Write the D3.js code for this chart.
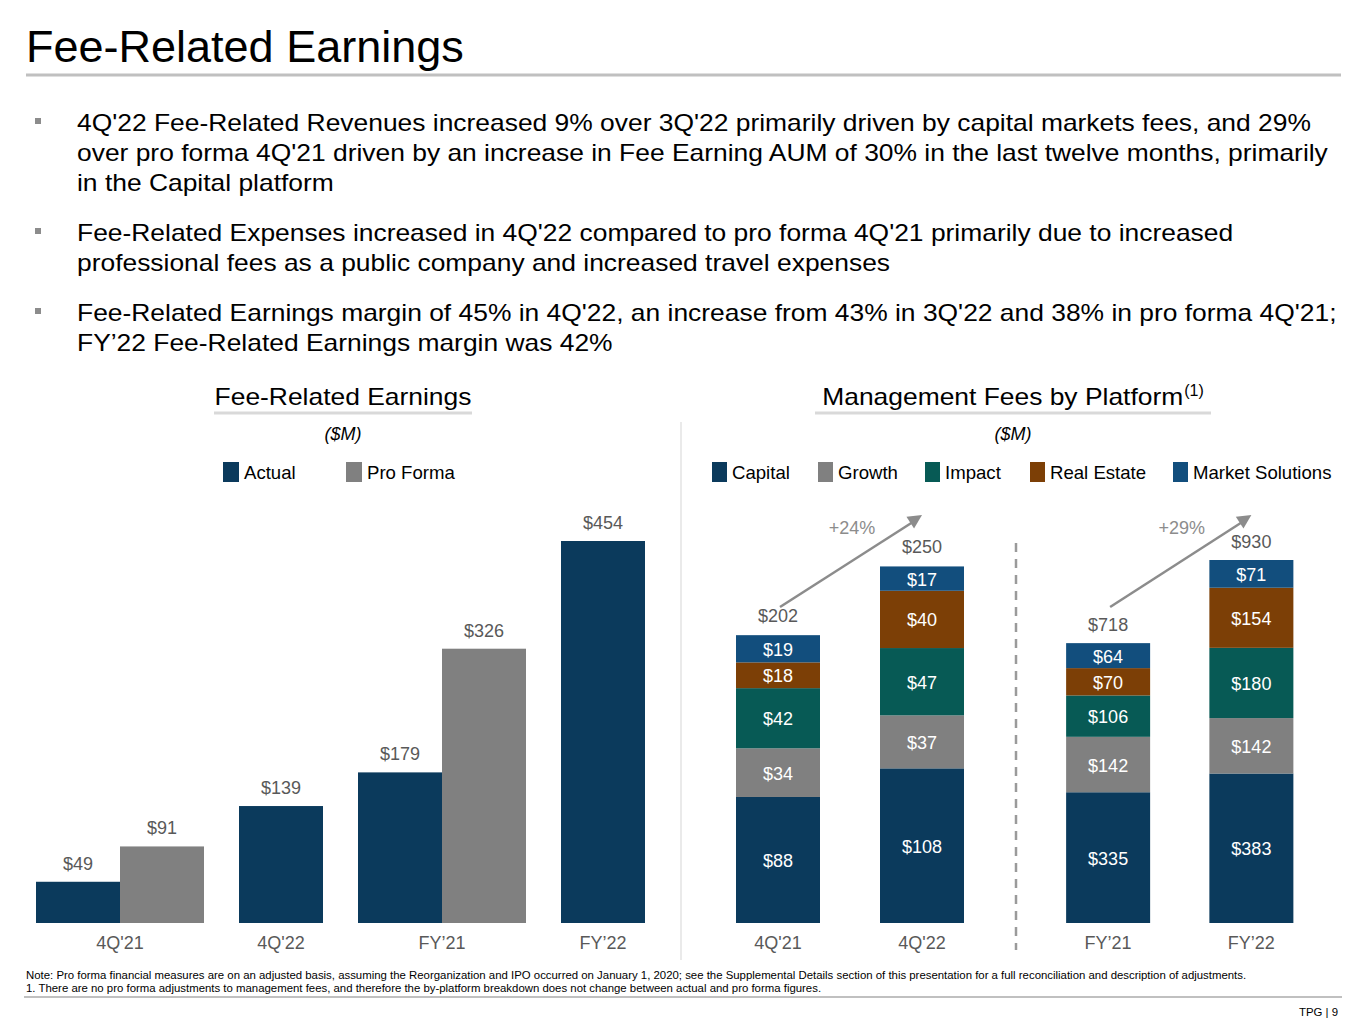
<!DOCTYPE html>
<html>
<head>
  <meta charset="utf-8">
  <script src="https://cdn.jsdelivr.net/npm/d3@7/dist/d3.min.js"></script>
  <style>
    body { margin: 0; background: #fff; }
    svg { display: block; font-family: "Liberation Sans", Arial, sans-serif; }
  </style>
</head>
<body>
<script>
  // left chart: fee-related earnings
  var ferCategories = ["4Q'21", "4Q'22", "FY\u201921", "FY\u201922"];
  var ferActual = [49, 139, 179, 454];
  var ferProForma = [91, null, 326, null];

  // right chart: management fees by platform
  var platforms = ["Capital", "Growth", "Impact", "Real Estate", "Market Solutions"];
  var quarterCategories = ["4Q'21", "4Q'22"];
  var quarterFees = [
    [88, 34, 42, 18, 19],
    [108, 37, 47, 40, 17]
  ];
  var quarterTotals = [202, 250];
  var quarterGrowth = "+24%";
  var yearCategories = ["FY\u201921", "FY\u201922"];
  var yearFees = [
    [335, 142, 106, 70, 64],
    [383, 142, 180, 154, 71]
  ];
  var yearTotals = [718, 930];
  var yearGrowth = "+29%";

  var bullets = [
    ["4Q'22 Fee-Related Revenues increased 9% over 3Q'22 primarily driven by capital markets fees, and 29%",
     "over pro forma 4Q'21 driven by an increase in Fee Earning AUM of 30% in the last twelve months, primarily",
     "in the Capital platform"],
    ["Fee-Related Expenses increased in 4Q'22 compared to pro forma 4Q'21 primarily due to increased",
     "professional fees as a public company and increased travel expenses"],
    ["Fee-Related Earnings margin of 45% in 4Q'22, an increase from 43% in 3Q'22 and 38% in pro forma 4Q'21;",
     "FY\u201922 Fee-Related Earnings margin was 42%"]
  ];

  var navy = "#0b3a5c", gray = "#808080";
  var platformColors = ["#0b3a5c", "#808080", "#075a55", "#7c3f06", "#124e7d"];
  var labelGray = "#595959";

  var W = 1365, H = 1024;
  var svg = d3.select("body").append("svg").attr("width", W).attr("height", H);

  // the slide's text runs a bit wider than Liberation Sans at the same height
  function widen(sel, k) {
    var out = 0;
    sel.each(function() {
      var n = this.getComputedTextLength() * k;
      d3.select(this).attr("textLength", n).attr("lengthAdjust", "spacingAndGlyphs");
      out = n;
    });
    return out;
  }

  // header
  svg.append("text").attr("x", 26).attr("y", 62)
    .style("font-size", "45px").style("fill", "#000")
    .text("Fee-Related Earnings");
  svg.append("line").attr("x1", 26).attr("x2", 1341).attr("y1", 75).attr("y2", 75)
    .style("stroke", "#c0c0c0").style("stroke-width", 3);

  var bulletTops = [131, 241, 321];
  bullets.forEach(function(lines, i) {
    svg.append("rect").attr("x", 35).attr("y", bulletTops[i] - 13)
      .attr("width", 6).attr("height", 6).style("fill", "#8c8c8c");
    lines.forEach(function(t, j) {
      var tx = svg.append("text").attr("x", 77).attr("y", bulletTops[i] + j * 30)
        .style("font-size", "24px").style("fill", "#000").text(t);
      widen(tx, 1.10);
    });
  });

  function panelTitle(cx, x1, x2, label, sup) {
    var g = svg.append("g");
    var t = g.append("text").attr("x", 0).attr("y", 405)
      .style("font-size", "24px").style("fill", "#000").text(label);
    var w = widen(t, 1.10);
    if (sup) {
      var s = g.append("text").attr("x", w + 1).attr("y", 396)
        .style("font-size", "16px").style("fill", "#000").text(sup);
      w += s.node().getComputedTextLength() + 1;
    }
    g.attr("transform", "translate(" + (cx - w / 2) + ",0)");
    svg.append("line").attr("x1", x1).attr("x2", x2).attr("y1", 413).attr("y2", 413)
      .style("stroke", "#d9d9d9").style("stroke-width", 3);
    svg.append("text").attr("x", cx).attr("y", 440)
      .attr("text-anchor", "middle").style("font-size", "18px")
      .style("font-style", "italic").style("fill", "#000").text("($M)");
  }

  panelTitle(343, 214, 472, "Fee-Related Earnings");
  panelTitle(1013, 815, 1211, "Management Fees by Platform", "(1)");

  // legends
  function legend(items, xs, colors, w) {
    items.forEach(function(name, i) {
      svg.append("rect").attr("x", xs[i]).attr("y", 462).attr("width", w).attr("height", 20)
        .style("fill", colors[i]);
      svg.append("text").attr("x", xs[i] + w + 5).attr("y", 479)
        .style("font-size", "18.6px").style("fill", "#000").text(name);
    });
  }
  legend(["Actual", "Pro Forma"], [223, 346], [navy, gray], 16);
  legend(platforms, [712, 818, 925, 1030, 1173], platformColors, 15);

  var base = 923, barW = 84;

  // left chart
  var xLeft = d3.scaleBand().domain(ferCategories).range([39.5, 683.5]);
  var yLeft = d3.scaleLinear().domain([0, 454]).range([base, 541]);

  var gL = svg.append("g");
  ferCategories.forEach(function(c, i) {
    var cx = xLeft(c) + xLeft.bandwidth() / 2;
    var bars = [];
    if (ferProForma[i] != null) {
      bars.push({ v: ferActual[i], x: cx - barW, col: navy });
      bars.push({ v: ferProForma[i], x: cx, col: gray });
    } else {
      bars.push({ v: ferActual[i], x: cx - barW / 2, col: navy });
    }
    bars.forEach(function(b) {
      gL.append("rect").attr("x", b.x).attr("y", yLeft(b.v))
        .attr("width", barW).attr("height", base - yLeft(b.v)).style("fill", b.col);
      gL.append("text").attr("x", b.x + barW / 2).attr("y", yLeft(b.v) - 12)
        .attr("text-anchor", "middle").style("font-size", "18px").style("fill", labelGray)
        .text("$" + b.v);
    });
  });
  var axL = svg.append("g").attr("transform", "translate(0," + base + ")")
    .call(d3.axisBottom(xLeft).tickSize(0).tickPadding(13));
  axL.select(".domain").remove();
  axL.selectAll("text").style("font-size", "18px").style("fill", labelGray)
    .style("font-family", "Liberation Sans, Arial, sans-serif");

  // divider between charts
  svg.append("line").attr("x1", 681).attr("x2", 681).attr("y1", 422).attr("y2", 960)
    .style("stroke", "#e3e3e3").style("stroke-width", 1.5);

  // right chart
  function stackedGroup(cats, data, totals, growth, range, ymax, ytop) {
    var x = d3.scaleBand().domain(cats).range(range);
    var y = d3.scaleLinear().domain([0, ymax]).range([base, ytop]);
    var g = svg.append("g");
    var tops = [];
    data.forEach(function(vals, i) {
      var cx = x(cats[i]) + x.bandwidth() / 2;
      var acc = 0;
      vals.forEach(function(v, k) {
        var y0 = y(acc), y1 = y(acc + v);
        g.append("rect").attr("x", cx - barW / 2).attr("y", y1)
          .attr("width", barW).attr("height", y0 - y1).style("fill", platformColors[k]);
        g.append("text").attr("x", cx).attr("y", (y0 + y1) / 2 + 7)
          .attr("text-anchor", "middle").style("font-size", "18px").style("fill", "#fff")
          .text("$" + v);
        acc += v;
      });
      tops.push(cx);
      g.append("text").attr("x", cx).attr("y", y(totals[i]) - 12)
        .attr("text-anchor", "middle").style("font-size", "18px").style("fill", labelGray)
        .text("$" + totals[i]);
    });
    var ax = svg.append("g").attr("transform", "translate(0," + base + ")")
      .call(d3.axisBottom(x).tickSize(0).tickPadding(13));
    ax.select(".domain").remove();
    ax.selectAll("text").style("font-size", "18px").style("fill", labelGray)
      .style("font-family", "Liberation Sans, Arial, sans-serif");

    // growth arrow from above the first bar to above the second
    var sx = tops[0] + 2, sy = 607;
    var ex = tops[1], ey = 515;
    g.append("line").attr("x1", sx).attr("y1", sy).attr("x2", ex - 6).attr("y2", ey + 5)
      .style("stroke", "#8c8c8c").style("stroke-width", 2.5);
    var ang = Math.atan2(ey - sy, ex - sx);
    var L = 14, Wd = 7;
    var p = [
      [ex, ey],
      [ex - L * Math.cos(ang) + Wd * Math.sin(ang), ey - L * Math.sin(ang) - Wd * Math.cos(ang)],
      [ex - L * Math.cos(ang) - Wd * Math.sin(ang), ey - L * Math.sin(ang) + Wd * Math.cos(ang)]
    ];
    g.append("path").attr("d", "M" + p.join("L") + "Z").style("fill", "#8c8c8c");
    g.append("text").attr("x", (sx + ex) / 2 + 1).attr("y", 534)
      .attr("text-anchor", "middle").style("font-size", "18px").style("fill", "#8c8c8c")
      .text(growth);
  }

  stackedGroup(quarterCategories, quarterFees, quarterTotals, quarterGrowth, [706, 994], 250, 565);
  stackedGroup(yearCategories, yearFees, yearTotals, yearGrowth, [1036.5, 1323], 930, 560);

  // dashed separator between quarter and year
  svg.append("line").attr("x1", 1016).attr("x2", 1016).attr("y1", 543).attr("y2", 950)
    .style("stroke", "#9a9a9a").style("stroke-width", 2.5).style("stroke-dasharray", "9,7");

  // footnotes
  svg.append("text").attr("x", 26).attr("y", 979).style("font-size", "11.4px").style("fill", "#000")
    .text("Note: Pro forma financial measures are on an adjusted basis, assuming the Reorganization and IPO occurred on January 1, 2020; see the Supplemental Details section of this presentation for a full reconciliation and description of adjustments.");
  svg.append("text").attr("x", 26).attr("y", 992).style("font-size", "11.4px").style("fill", "#000")
    .text("1. There are no pro forma adjustments to management fees, and therefore the by-platform breakdown does not change between actual and pro forma figures.");
  svg.append("line").attr("x1", 24).attr("x2", 1342).attr("y1", 997).attr("y2", 997)
    .style("stroke", "#c0c0c0").style("stroke-width", 2);
  svg.append("text").attr("x", 1338).attr("y", 1016).attr("text-anchor", "end")
    .style("font-size", "11.4px").style("fill", "#000").text("TPG | 9");
</script>
</body>
</html>
